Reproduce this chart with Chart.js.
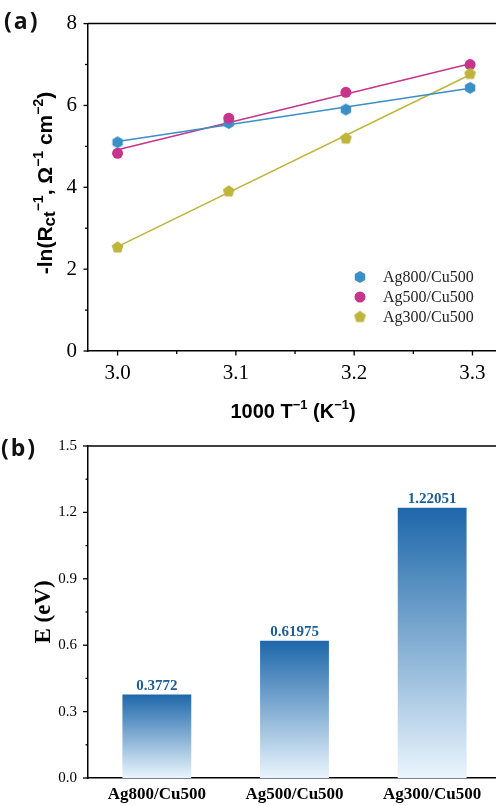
<!DOCTYPE html>
<html>
<head>
<meta charset="utf-8">
<script src="https://cdn.jsdelivr.net/npm/chart.js@4.4.0/dist/chart.umd.min.js"></script>
<style>
  html, body { margin: 0; padding: 0; background: #fff; overflow: hidden; width: 496px; height: 806px; }
  #wrap { position: relative; width: 496px; height: 806px; overflow: hidden; }
  canvas { position: absolute; left: 0; }
  #top { top: 0; }
  #bottom { top: 420px; }
  .panel { position: absolute; font: bold 23px 'Open Sans', sans-serif; color: #111; letter-spacing: 2px; line-height: 30px; }
</style>
</head>
<body>
<div id="wrap">
  <canvas id="top" width="504" height="422"></canvas>
  <canvas id="bottom" width="501" height="386"></canvas>
  <div class="panel" style="left:4px;top:5px">(a)</div>
  <div class="panel" style="left:1px;top:432px">(b)</div>
</div>
<script>
"use strict"

// ---- panel (a) data
const xValues = [3.0, 3.094, 3.193, 3.298];
const ag800 = [5.10, 5.57, 5.90, 6.43];
const ag500 = [4.83, 5.69, 6.32, 7.00];
const ag300 = [2.53, 3.90, 5.19, 6.77];
// fitted lines, end points
const fitX = [3.0, 3.298];
const fit800 = [5.12, 6.42];
const fit500 = [4.92, 7.02];
const fit300 = [2.55, 6.75];

// ---- panel (b) data
const samples = ['Ag800/Cu500', 'Ag500/Cu500', 'Ag300/Cu500'];
const energies = [0.3772, 0.61975, 1.22051];

const SERIF = "'Liberation Serif', 'Times New Roman', serif";
const SANS = "'Liberation Sans', Arial, sans-serif";
const BLUE = '#3a8fc7', MAGENTA = '#c6358a', OLIVE = '#bfb43c';

Chart.defaults.animation = false;
Chart.defaults.color = '#000';

const toPoints = (xs, ys) => xs.map((x, i) => ({ x: x, y: ys[i] }));

// filled regular polygon used as point style
function polygon(sides, r, color) {
  const size = Math.ceil(r * 2) + 2;
  const c = document.createElement('canvas');
  c.width = c.height = size;
  const g = c.getContext('2d');
  g.fillStyle = color;
  g.beginPath();
  for (let i = 0; i < sides; i++) {
    const a = -Math.PI / 2 + i * 2 * Math.PI / sides;
    const px = size / 2 + r * Math.cos(a), py = size / 2 + r * Math.sin(a);
    if (i == 0) g.moveTo(px, py); else g.lineTo(px, py);
  }
  g.closePath();
  g.fill();
  return c;
}

// text with super/subscripts, centred on (cx, cy)
function drawRich(ctx, parts, cx, cy, size, family, rotate) {
  ctx.save();
  ctx.translate(cx, cy);
  if (rotate) ctx.rotate(-Math.PI / 2);
  const font = p => `bold ${Math.round(size * (p.s || 1))}px ${family}`;
  let total = 0;
  parts.forEach(p => { ctx.font = font(p); p.w = ctx.measureText(p.t).width; total += p.w; });
  let x = -total / 2;
  ctx.fillStyle = '#000';
  ctx.textBaseline = 'alphabetic';
  ctx.textAlign = 'left';
  parts.forEach(p => {
    ctx.font = font(p);
    ctx.fillText(p.t, x, size * 0.35 + (p.dy || 0) * size);
    x += p.w;
  });
  ctx.restore();
}

// outward tick marks, long where the tick has a label
const tickMarks = {
  id: 'tickMarks',
  afterDraw(chart, args, opts) {
    const ctx = chart.ctx;
    ctx.save();
    ctx.strokeStyle = '#000';
    ctx.lineWidth = 1.3;
    (opts.axes || []).forEach(a => {
      const scale = chart.scales[a.id];
      scale.ticks.forEach(t => {
        const len = t.label ? a.major : a.minor;
        const p = scale.getPixelForValue(t.value);
        ctx.beginPath();
        if (scale.isHorizontal()) {
          ctx.moveTo(p, scale.top); ctx.lineTo(p, scale.top + len);
        } else {
          ctx.moveTo(scale.right, p); ctx.lineTo(scale.right - len, p);
        }
        ctx.stroke();
      });
    });
    // top frame line
    const area = chart.chartArea;
    ctx.lineWidth = 1.5;
    ctx.beginPath();
    ctx.moveTo(area.left, area.top);
    ctx.lineTo(chart.width, area.top);
    ctx.stroke();
    ctx.restore();
  }
};

// titles and legend for (a)
const decorA = {
  id: 'decorA',
  afterDraw(chart) {
    const ctx = chart.ctx;
    drawRich(ctx, [
      { t: '-ln(R' }, { t: 'ct', s: 0.8, dy: 0.12 }, { t: '\u22121', s: 0.65, dy: -0.45 },
      { t: ', \u03A9' }, { t: '\u22121', s: 0.65, dy: -0.45 },
      { t: ' cm' }, { t: '\u22122', s: 0.65, dy: -0.45 }, { t: ')' }
    ], 45, 183, 21, SANS, true);
    drawRich(ctx, [
      { t: '1000 T' }, { t: '\u22121', s: 0.65, dy: -0.45 },
      { t: ' (K' }, { t: '\u22121', s: 0.65, dy: -0.45 }, { t: ')' }
    ], 293, 411, 20, SANS, false);

    // legend
    ctx.save();
    ctx.font = `16px ${SERIF}`;
    ctx.textBaseline = 'middle';
    chart.data.datasets.filter(d => d.legend).forEach((d, i) => {
      const y = 277 + i * 20;
      if (d.pointStyle == 'circle') {
        ctx.fillStyle = d.backgroundColor;
        ctx.beginPath(); ctx.arc(360, y, d.pointRadius, 0, 2 * Math.PI); ctx.fill();
      } else {
        ctx.drawImage(d.pointStyle, 360 - d.pointStyle.width / 2, y - d.pointStyle.height / 2);
      }
      ctx.fillStyle = '#222';
      ctx.fillText(d.label, 383, y + 1);
    });
    ctx.restore();
  }
};

const markerSet = (label, ys, color, style, order) => ({
  label: label, legend: true, data: toPoints(xValues, ys),
  pointStyle: style, pointRadius: 5.5, backgroundColor: color, borderWidth: 0,
  pointHoverRadius: 5.5, showLine: false, order: order
});
const fitSet = (ys, color) => ({
  data: toPoints(fitX, ys), showLine: true, borderColor: color, borderWidth: 1.5,
  pointRadius: 0, order: 5
});

new Chart(document.getElementById('top'), {
  type: 'scatter',
  data: {
    datasets: [
      markerSet('Ag800/Cu500', ag800, BLUE, polygon(6, 6, BLUE), 2),
      markerSet('Ag500/Cu500', ag500, MAGENTA, 'circle', 1),
      markerSet('Ag300/Cu500', ag300, OLIVE, polygon(5, 6.2, OLIVE), 0),
      fitSet(fit800, BLUE),
      fitSet(fit500, MAGENTA),
      fitSet(fit300, OLIVE)
    ]
  },
  options: {
    responsive: false,
    layout: { padding: { top: 19, left: 0, right: 0, bottom: 0 } },
    plugins: { legend: { display: false }, tooltip: { enabled: false }, tickMarks: { axes: [
      { id: 'x', major: 4.5, minor: 3 }, { id: 'y', major: 4.5, minor: 3 }] } },
    scales: {
      x: {
        type: 'linear', min: 2.975, max: 3.322,
        afterFit: s => { s.height = 71; },
        grid: { display: false, drawTicks: false },
        border: { color: '#000', width: 1.5 },
        ticks: {
          stepSize: 0.05, includeBounds: false, autoSkip: false, maxRotation: 0, padding: 10,
          font: { family: SERIF, size: 21 },
          callback: v => Math.round(v * 20) % 2 == 0 ? v.toFixed(1) : ''
        }
      },
      y: {
        min: 0, max: 8,
        afterFit: s => { s.width = 88; },
        grid: { display: false, drawTicks: false },
        border: { color: '#000', width: 1.5 },
        ticks: {
          stepSize: 1, padding: 11, font: { family: SERIF, size: 21 },
          callback: v => Math.round(v) % 2 == 0 ? String(Math.round(v)) : ''
        }
      }
    }
  },
  plugins: [tickMarks, decorA]
});

// ---- panel (b)
const decorB = {
  id: 'decorB',
  afterDraw(chart) {
    const ctx = chart.ctx;
    drawRich(ctx, [{ t: 'E (eV)' }], 42, 192, 23, SERIF, true);
    const meta = chart.getDatasetMeta(0);
    ctx.save();
    ctx.font = `bold 15px ${SERIF}`;
    ctx.fillStyle = '#1d5d96';
    ctx.textAlign = 'center';
    ctx.textBaseline = 'bottom';
    meta.data.forEach((bar, i) => {
      ctx.fillText(String(energies[i]), bar.x, bar.y - 1);
    });
    ctx.restore();
  }
};

new Chart(document.getElementById('bottom'), {
  type: 'bar',
  data: {
    labels: samples,
    datasets: [{
      data: energies,
      barPercentage: 0.5,
      categoryPercentage: 1,
      borderWidth: 0,
      backgroundColor: c => {
        const chart = c.chart;
        if (!chart.chartArea || c.raw == null) return '#1f69ab';
        const y = chart.scales.y;
        const g = chart.ctx.createLinearGradient(0, y.getPixelForValue(c.raw), 0, y.getPixelForValue(0));
        g.addColorStop(0, '#1d67aa');
        g.addColorStop(1, '#eaf5fd');
        return g;
      }
    }]
  },
  options: {
    responsive: false,
    layout: { padding: { top: 26, left: 0, right: 0, bottom: 0 } },
    plugins: { legend: { display: false }, tooltip: { enabled: false }, tickMarks: { axes: [
      { id: 'y', major: 5, minor: 2.5 }] } },
    scales: {
      x: {
        afterFit: s => { s.height = 28; },
        grid: { display: false, drawTicks: false },
        border: { color: '#000', width: 1.5 },
        ticks: { padding: 6, maxRotation: 0, autoSkip: false, font: { family: SERIF, size: 17, weight: 'bold' } }
      },
      y: {
        min: 0, max: 1.5,
        afterFit: s => { s.width = 88; },
        grid: { display: false, drawTicks: false },
        border: { color: '#000', width: 1.5 },
        ticks: {
          stepSize: 0.15, padding: 11, font: { family: SERIF, size: 15 },
          callback: v => Math.round(v / 0.15) % 2 == 0 ? v.toFixed(1) : ''
        }
      }
    }
  },
  plugins: [tickMarks, decorB]
});
</script>
</body>
</html>
